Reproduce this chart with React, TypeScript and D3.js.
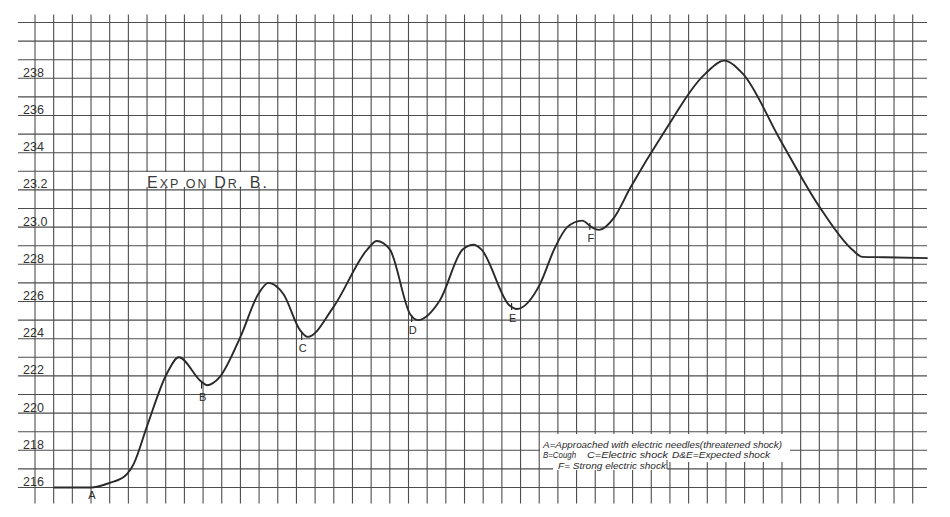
import React, { useRef, useEffect } from "react";
import * as d3 from "d3";

// readings, x in grid columns
const cols = [
  1, 3, 4, 4.8, 5.3, 6.0, 7.05, 7.7, 8.9, 9.2, 9.9, 11.0, 11.96, 12.5, 13.3, 14.2, 14.6,
  15.98, 17.8, 18.3, 19.0, 20.1, 20.5, 21.7, 22.9, 23.5, 23.9, 25.4, 25.8, 27.05, 27.8,
  28.5, 29.3, 29.8, 30.2, 31.0, 31.87, 33.65, 35.9, 36.9, 37.9, 39.9, 42.0, 43.8, 44.3,
  45.5, 47.8
];
const readings = [
  216.0, 216.0, 216.25, 216.6, 217.3, 219.3, 222.1, 223.0, 221.7, 221.5, 221.95, 224.1,
  226.4, 227.0, 226.4, 224.45, 224.1, 225.7, 228.8, 229.25, 228.8, 225.3, 225.0, 226.1,
  228.8, 229.05, 228.8, 225.8, 225.6, 226.95, 228.8, 230.0, 230.35, 230.0, 229.85, 230.5,
  232.1, 235.05, 238.25, 238.95, 238.25, 234.7, 231.1, 228.75, 228.4, 228.38, 228.33
];

const markerLabels = ["A", "B", "C", "D", "E", "F"];
const markerCols = [3, 8.92, 14.28, 20.17, 25.52, 29.71];
const markerValues = [216, 221.69, 224.3, 225.27, 225.92, 230.22];

const tickValues = [216, 218, 220, 222, 224, 226, 228, 230, 232, 234, 236, 238];
const tickLabels = ["216", "218", "220", "222", "224", "226", "228", "23.0", "23.2", "234", "236", "238"];

const legendLines = [
  "A=Approached with electric needles(threatened shock)",
  "F= Strong electric shock"
];
const legendParts = ["B=Cough", "C=Electric shock", "D&E=Expected shock"];

export default function App() {
  const ref = useRef<SVGSVGElement | null>(null);

  useEffect(() => {
    const svg = d3.select(ref.current);
    svg.selectAll("*").remove();

    const x = d3.scaleLinear().domain([0, 47]).range([35, 912.7]);
    const y = d3.scaleLinear().domain([216, 238]).range([487.5, 78.3]);

    const gridColor = "#4d4d4d";
    const ink = "#2a2a2a";

    svg.append("rect").attr("width", 950).attr("height", 517).attr("fill", "#fff");

    // graph paper
    const grid = svg.append("g").attr("stroke", gridColor).attr("stroke-width", 1.1);
    grid.selectAll("line.v")
      .data(d3.range(0, 48))
      .enter()
      .append("line")
      .attr("x1", d => x(d))
      .attr("x2", d => x(d))
      .attr("y1", y(241) - 8)
      .attr("y2", y(216) + 16);
    grid.selectAll("line.h")
      .data(d3.range(216, 242))
      .enter()
      .append("line")
      .attr("x1", 18)
      .attr("x2", 927)
      .attr("y1", d => y(d))
      .attr("y2", d => y(d));

    // y labels
    svg.append("g")
      .selectAll("text")
      .data(tickValues)
      .enter()
      .append("text")
      .attr("x", 23)
      .attr("y", d => y(d) - 1.5)
      .style("font-family", "Liberation Sans, Arial, sans-serif")
      .style("font-size", "12.5px")
      .attr("fill", "#333")
      .text((d, i) => tickLabels[i]);

    // title on a cleared patch
    svg.append("rect")
      .attr("x", 144).attr("y", 172).attr("width", 128).attr("height", 15)
      .attr("fill", "#fff");
    const title = svg.append("text")
      .attr("x", 147)
      .attr("y", 188)
      .attr("textLength", 121)
      .attr("lengthAdjust", "spacing")
      .attr("fill", "#3a3a3a")
      .style("font-family", "Liberation Sans, Arial, sans-serif")
      .style("letter-spacing", "1px");
    const parts: [string, number][] = [
      ["E", 16], ["XP ON ", 12.5], ["D", 16], ["R. ", 12.5], ["B.", 16]
    ];
    parts.forEach(([t, s]) => title.append("tspan").style("font-size", `${s}px`).text(t));

    // curve
    const line = d3.line<number>()
      .x((d, i) => x(cols[i]))
      .y(d => y(d))
      .curve(d3.curveMonotoneX);
    svg.append("path")
      .datum(readings)
      .attr("d", line)
      .attr("fill", "none")
      .attr("stroke", ink)
      .attr("stroke-width", 1.9)
      .attr("stroke-linejoin", "round");

    // event markers
    const marks = svg.append("g");
    markerLabels.forEach((lab, i) => {
      const mx = x(markerCols[i]);
      const my = y(markerValues[i]);
      if (i > 0) {
        marks.append("line")
          .attr("x1", mx).attr("x2", mx)
          .attr("y1", my).attr("y2", my + 7)
          .attr("stroke", ink).attr("stroke-width", 1.2);
      }
      marks.append("text")
        .attr("x", mx + 1)
        .attr("y", i === 0 ? my + 11 : my + 19)
        .attr("text-anchor", "middle")
        .attr("fill", ink)
        .style("font-family", "Liberation Sans, Arial, sans-serif")
        .style("font-size", "11px")
        .text(lab);
    });

    // legend, grid cleared behind it
    svg.append("rect").attr("x", 540).attr("y", 434).attr("width", 250).attr("height", 28).attr("fill", "#fff");
    svg.append("rect").attr("x", 553).attr("y", 460).attr("width", 114).attr("height", 10).attr("fill", "#fff");
    svg.append("line")
      .attr("x1", 667).attr("x2", 667).attr("y1", 460).attr("y2", 469)
      .attr("stroke", gridColor).attr("stroke-width", 1);

    const lg = svg.append("g")
      .attr("fill", ink)
      .style("font-family", "Liberation Sans, Arial, sans-serif")
      .style("font-style", "italic")
      .style("font-size", "9px");
    lg.append("text").attr("x", 543).attr("y", 447.5)
      .attr("textLength", 239).attr("lengthAdjust", "spacingAndGlyphs")
      .text(legendLines[0]);
    const partX = [543, 587, 672];
    const partW = [33, 81, 98];
    legendParts.forEach((t, i) => {
      lg.append("text").attr("x", partX[i]).attr("y", 458)
        .attr("textLength", partW[i]).attr("lengthAdjust", "spacingAndGlyphs")
        .text(t);
    });
    lg.append("text").attr("x", 558).attr("y", 468.5)
      .attr("textLength", 108).attr("lengthAdjust", "spacingAndGlyphs")
      .text(legendLines[1]);
  }, []);

  return (
    <svg
      ref={ref}
      width={950}
      height={517}
      style={{ position: "absolute", left: 0, top: 0 }}
    />
  );
}
